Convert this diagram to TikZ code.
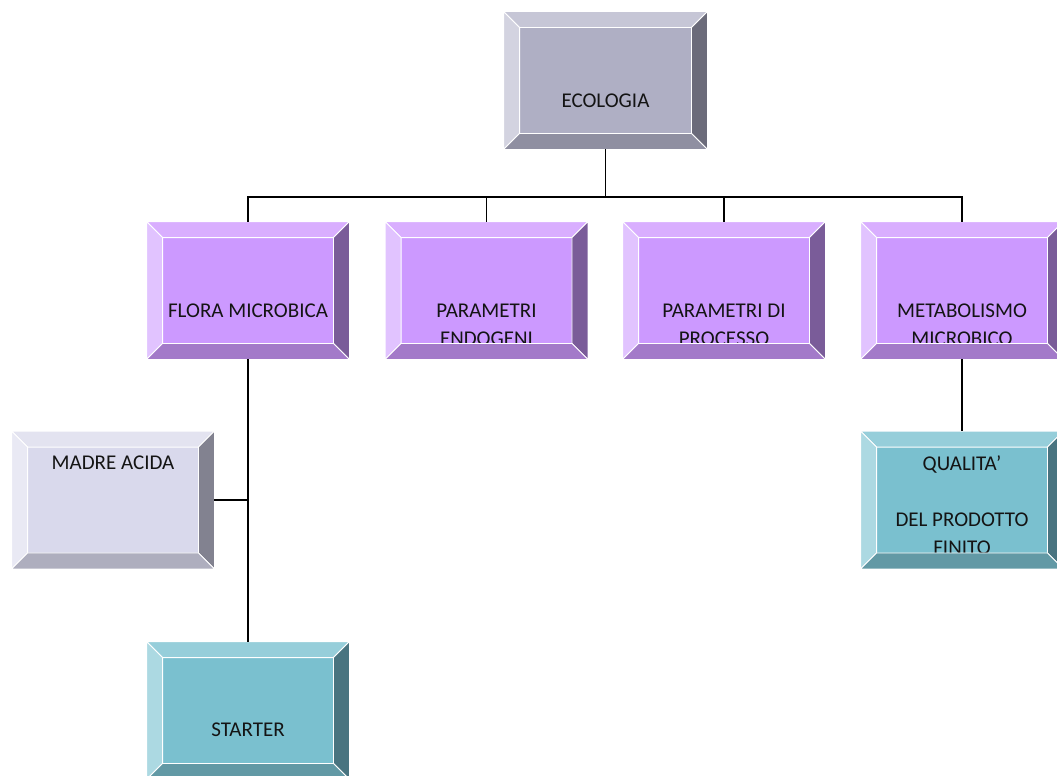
\documentclass[tikz,border=0pt]{standalone}
\usepackage{fontspec}
\setmainfont{Carlito}
\usetikzlibrary{calc}
\definecolor{gF}{HTML}{AFAFC4}\definecolor{gT}{HTML}{C6C6D6}\definecolor{gL}{HTML}{D3D3E0}\definecolor{gR}{HTML}{6B6B7A}\definecolor{gB}{HTML}{8F8FA1}
\definecolor{pF}{HTML}{CC99FF}\definecolor{pT}{HTML}{D9AEFF}\definecolor{pL}{HTML}{E1C3FF}\definecolor{pR}{HTML}{7A5C99}\definecolor{pB}{HTML}{A37AC9}
\definecolor{lF}{HTML}{D9D9EC}\definecolor{lT}{HTML}{E3E3F0}\definecolor{lL}{HTML}{E9E9F4}\definecolor{lR}{HTML}{828290}\definecolor{lB}{HTML}{AEAEBE}
\definecolor{tF}{HTML}{7AC0CF}\definecolor{tT}{HTML}{96CEDA}\definecolor{tL}{HTML}{ACD9E2}\definecolor{tR}{HTML}{497480}\definecolor{tB}{HTML}{6299A5}
\definecolor{txt}{HTML}{141414}
\newcommand\bv{16}
\newcommand\bevelfaces[2]{%
  \fill[#2T,draw=white,line width=0.9pt] (#1.north west) -- (#1.north east) -- ($(#1.north east)+(-\bv,\bv)$) -- ($(#1.north west)+(\bv,\bv)$) -- cycle;
  \fill[#2L,draw=white,line width=0.9pt] (#1.north west) -- ($(#1.north west)+(\bv,\bv)$) -- ($(#1.south west)+(\bv,-\bv)$) -- (#1.south west) -- cycle;
  \fill[#2R,draw=white,line width=0.9pt] (#1.north east) -- ($(#1.north east)+(-\bv,\bv)$) -- ($(#1.south east)+(-\bv,-\bv)$) -- (#1.south east) -- cycle;
  \fill[#2B,draw=white,line width=0.9pt] (#1.south west) -- ($(#1.south west)+(\bv,-\bv)$) -- ($(#1.south east)+(-\bv,-\bv)$) -- (#1.south east) -- cycle;
}
\tikzset{
  box/.style={rectangle,draw=white,line width=0.9pt,fill=#1,minimum width=202pt,minimum height=137pt,inner sep=0pt},
  lbl/.style={anchor=base,inner sep=0pt,text=txt,font=\fontsize{21}{25}\selectfont},
  conn/.style={draw=black,line width=1.9pt}
}
\begin{document}
\begin{tikzpicture}[x=1pt,y=-1pt]
\useasboundingbox (0,0) rectangle (1057,776);
\clip (0,0) rectangle (1057,776);
\fill[white] (0,0) rectangle (1057,776);
% box faces
\node[box=gF,minimum width=203pt] (eco) at (605.5,80.5) {};
\node[box=pF] (flora) at (248,290.5) {};
\node[box=pF] (endo) at (486.5,290.5) {};
\node[box=pF] (proc) at (724,290.5) {};
\node[box=pF] (metab) at (962,290.5) {};
\node[box=lF] (madre) at (113,500) {};
\node[box=tF] (qual) at (962,500) {};
\node[box=tF] (starter) at (248,710.5) {};
% texts
\node[lbl] (teco) at (605.5,107) {ECOLOGIA};
\node[lbl] (tflora) at (248,317) {FLORA MICROBICA};
\node[lbl] (tendo1) at (486.5,317) {PARAMETRI};
\node[lbl] (tendo2) at (486.5,345) {ENDOGENI};
\node[lbl] (tproc1) at (724,317) {PARAMETRI DI};
\node[lbl] (tproc2) at (724,345) {PROCESSO};
\node[lbl] (tmetab1) at (962,317) {METABOLISMO};
\node[lbl] (tmetab2) at (962,345) {MICROBICO};
\node[lbl] (tmadre) at (113,469) {MADRE ACIDA};
\node[lbl] (tqual1) at (962,470) {QUALITA’};
\node[lbl] (tqual2) at (962,526) {DEL PRODOTTO};
\node[lbl] (tqual3) at (962,554) {FINITO};
\node[lbl] (tstarter) at (248,736) {STARTER};
% bevels
\bevelfaces{eco}{g}
\bevelfaces{flora}{p}
\bevelfaces{endo}{p}
\bevelfaces{proc}{p}
\bevelfaces{metab}{p}
\bevelfaces{madre}{l}
\bevelfaces{qual}{t}
\bevelfaces{starter}{t}
% connectors
\coordinate (bus) at (605.5,197);
\draw[conn] (eco.south) -- (bus);
\draw[conn] (flora.north) |- (bus -| metab.north) -- (metab.north);
\draw[conn] (endo.north) -- (endo.north |- bus);
\draw[conn] (proc.north) -- (proc.north |- bus);
\draw[conn] (flora.south) -- (starter.north);
\draw[conn] (madre.east) -- (madre.east -| flora.south);
\draw[conn] (metab.south) -- (qual.north);
\end{tikzpicture}
\end{document}
